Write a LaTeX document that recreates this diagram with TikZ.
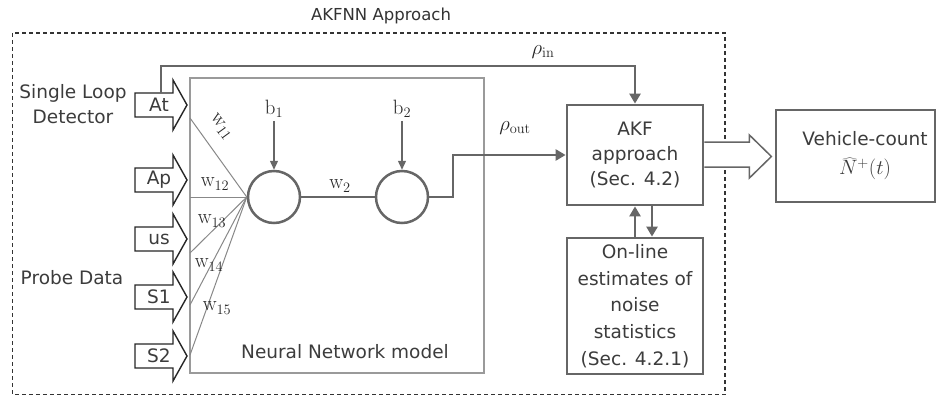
\documentclass[tikz,border=0pt]{standalone}
\usepackage[no-math]{fontspec}
\setmainfont{DejaVu Sans}
\usetikzlibrary{arrows.meta}
\definecolor{txt}{HTML}{3C3C3C}
\definecolor{ln}{HTML}{666666}
\definecolor{lt}{HTML}{9A9A9A}
\definecolor{wl}{HTML}{888888}
\newcommand\inarr[3]{%
  \draw[inbox] (135,#2-12) -- (173,#2-12) -- (173,#2-25) -- (187,#2) -- (173,#2+25) -- (173,#2+12) -- (135,#2+12) -- cycle;
  \node[lbl] (#1) at (159,#2) {#3};}
\begin{document}
\begin{tikzpicture}[x=1pt,y=-1pt,
  font=\fontsize{18.5}{25}\selectfont, text=txt,
  lbl/.style={inner sep=0pt, align=center},
  mlbl/.style={inner sep=0pt, font=\fontsize{20.74}{22}\selectfont, text=black!85},
  frame/.style={draw=black!80, line width=1.2pt, dash pattern=on 4pt off 3pt},
  inbox/.style={draw=black!85, line width=1.4pt, fill=white},
  conn/.style={draw=ln, line width=2.5pt, -{Triangle[length=10pt,width=11pt]}},
  bias/.style={draw=ln, line width=1.4pt, -{Triangle[length=9pt,width=8pt]}},
  wline/.style={draw=wl, line width=1pt},
  box/.style={draw=ln, line width=2.8pt, fill=white, inner sep=0pt, align=center},
  nnbox/.style={draw=lt, line width=1.5pt, inner sep=0pt},
  neuron/.style={circle, draw=ln, line width=2.5pt, minimum size=52pt, inner sep=0pt},
  hollow/.style={draw=ln, line width=1.5pt, fill=white}]
\useasboundingbox (0,0) rectangle (938,396);

% outer dashed frame and title
\draw[frame] (12.5,33) rectangle (725,394.5);
\node[lbl, font=\fontsize{16.5}{20}\selectfont, text=black!80] (title) at (381,16) {AKFNN Approach};

% neural network box
\node[nnbox, minimum width=294pt, minimum height=295pt] (nn) at (337,225.5) {};
\node[lbl] (nnlbl) at (345,352) {Neural Network model};

% source labels
\node[lbl] (sld) at (73,104.5) {Single Loop\\Detector};
\node[lbl] (probe) at (72,278) {Probe Data};

% input block arrows
\inarr{at}{105}{At}
\inarr{ap}{180}{Ap}
\inarr{us}{239}{us}
\inarr{s1}{297}{S1}
\inarr{s2}{356}{S2}

% neurons
\node[neuron] (n1) at (274,197) {};
\node[neuron] (n2) at (402,197) {};

% weight lines
\coordinate (i1) at (190,118);
\coordinate (i2) at (190,197);
\coordinate (i3) at (190,253);
\coordinate (i4) at (190,305);
\coordinate (i5) at (190,355);
\foreach \i in {1,...,5} \draw[wline] (i\i) -- (n1.west);
\node[mlbl, rotate=-54] (w11) at (221,127) {$\mathrm{w}_{11}$};
\node[mlbl] (w12) at (215,184) {$\mathrm{w}_{12}$};
\node[mlbl] (w13) at (212,221) {$\mathrm{w}_{13}$};
\node[mlbl] (w14) at (209,265) {$\mathrm{w}_{14}$};
\node[mlbl] (w15) at (217,308) {$\mathrm{w}_{15}$};

% biases
\node[mlbl] (b1) at (274,109) {$\mathrm{b}_{1}$};
\node[mlbl] (b2) at (402,109) {$\mathrm{b}_{2}$};
\draw[bias] ([yshift=-3pt]b1.south) -- (n1.north);
\draw[bias] ([yshift=-3pt]b2.south) -- (n2.north);

% hidden to output
\draw[draw=ln, line width=2.5pt] (n1.east) -- (n2.west);
\node[mlbl] (w2) at (340,186) {$\mathrm{w}_{2}$};

% AKF and noise boxes
\node[box, minimum width=136pt, minimum height=100pt] (akf) at (635,155) {AKF\\approach\\(Sec. 4.2)};
\node[box, minimum width=136pt, minimum height=136pt, font=\fontsize{18.5}{26.75}\selectfont] (noise) at (635,306) {On-line\\estimates of\\noise\\statistics\\(Sec. 4.2.1)};

% rho_out
\coordinate (bend) at (453,197);
\draw[conn] (n2.east) -- (bend) |- (akf.west);
\node[mlbl] (rout) at (515,128) {$\rho_{\mathrm{out}}$};

% rho_in
\coordinate (atTop) at (161,93);
\coordinate (rin) at (635,66);
\draw[conn] (atTop) |- (rin) -- (akf.north);
\node[mlbl] (rinl) at (543,52) {$\rho_{\mathrm{in}}$};

% AKF <-> noise
\draw[conn] (noise.north) -- (akf.south);
\draw[conn] ([xshift=17pt]akf.south) -- ([xshift=17pt]noise.north);

% vehicle count
\node[box, minimum width=159pt, minimum height=92pt] (veh) at (855.5,156) {};
\node[lbl, font=\fontsize{18.5}{29}\selectfont] (vehtxt) at (865,156) {Vehicle-count\\{\fontsize{20.74}{29}\selectfont$\widehat{N}^{+}(t)$}};

% hollow block arrow AKF -> vehicle
\draw[hollow, shift={(akf.east)}] (0,-13) -- (45,-13) -- (45,-20) -- (67,1.5) -- (45,23) -- (45,12) -- (0,12);
\end{tikzpicture}
\end{document}
